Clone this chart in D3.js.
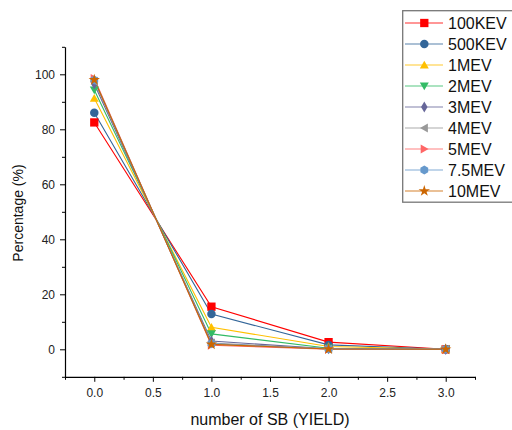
<!DOCTYPE html>
<html><head><meta charset="utf-8">
<script src="https://cdn.jsdelivr.net/npm/d3@7/dist/d3.min.js"></script>
<style>body{margin:0;background:#fff}svg{font-family:"Liberation Sans",Arial,sans-serif}</style>
</head><body><svg id="c" width="512" height="430"></svg>
<script>
const xValues = [0, 1, 2, 3];
const seriesNames = ["100KEV","500KEV","1MEV","2MEV","3MEV","4MEV","5MEV","7.5MEV","10MEV"];
const s100KEV = [82.5, 15.5, 2.6, 0];
const s500KEV = [86.0, 12.8, 1.6, 0];
const s1MEV   = [91.3, 8.0, 1.0, 0];
const s2MEV   = [94.3, 5.6, 0.4, 0];
const s3MEV   = [96.5, 3.0, 0.2, 0];
const s4MEV   = [97.5, 2.3, 0.1, 0];
const s5MEV   = [98.5, 1.5, 0.05, 0];
const s7_5MEV = [97.9, 2.0, 0.1, 0];
const s10MEV  = [98.0, 1.8, 0.1, 0];
const xTicks = [0, 0.5, 1, 1.5, 2, 2.5, 3];
const yTicks = [0, 20, 40, 60, 80, 100];

const allValues = [s100KEV,s500KEV,s1MEV,s2MEV,s3MEV,s4MEV,s5MEV,s7_5MEV,s10MEV];
const colors = ["#ff0000","#336699","#ffc000","#33bb66","#666699","#999999","#ff6666","#6699cc","#cc6600"];
const symbols = [d3.symbolSquare, d3.symbolCircle, d3.symbolTriangle, "tdown", d3.symbolDiamond, "tleft", "tright", "hex", d3.symbolStar];

const svg = d3.select("#c");
const x = d3.scaleLinear().domain([-0.25, 3.25]).range([65, 475]);
const y = d3.scaleLinear().domain([-10, 110]).range([376.8, 46.8]);

// axes
const xAxis = svg.append("g").attr("transform","translate(0,376.8)");
xAxis.call(d3.axisBottom(x).tickValues(xTicks).tickFormat(d3.format(".1f")).tickSize(5).tickSizeOuter(0));
const xMinor = svg.append("g").attr("transform","translate(0,376.8)");
xMinor.call(d3.axisBottom(x).tickValues([-0.25,0.25,0.75,1.25,1.75,2.25,2.75,3.25]).tickFormat("").tickSize(3).tickSizeOuter(0));
xMinor.select(".domain").remove();
const yAxis = svg.append("g").attr("transform","translate(65,0)");
yAxis.call(d3.axisLeft(y).tickValues(yTicks).tickSize(5).tickSizeOuter(0));
const yMinor = svg.append("g").attr("transform","translate(65,0)");
yMinor.call(d3.axisLeft(y).tickValues([-10,10,30,50,70,90,110]).tickFormat("").tickSize(3).tickSizeOuter(0));
yMinor.select(".domain").remove();
svg.selectAll(".domain").attr("stroke","#000").attr("stroke-width",1.2);
svg.selectAll(".tick line").attr("stroke","#000");
svg.selectAll(".tick text").attr("font-size","12px").attr("fill","#222").attr("font-family","Liberation Sans, Arial, sans-serif");
xAxis.selectAll(".tick text").attr("dy","1.05em");
yAxis.selectAll(".tick text").attr("dx","-2");

svg.append("text").attr("x",270).attr("y",425).attr("text-anchor","middle").attr("font-size","16px").attr("fill","#111").text("number of SB (YIELD)");
svg.append("text").attr("transform","translate(23,213) rotate(-90)").attr("text-anchor","middle").attr("font-size","14px").attr("fill","#111").text("Percentage (%)");

function markerPath(sym, size) {
  const r = size/2;
  if (sym === "tdown") return `M${-r},${-r*0.8}L${r},${-r*0.8}L0,${r*0.95}Z`;
  if (sym === "tleft") return `M${-r*0.95},0L${r*0.8},${-r}L${r*0.8},${r}Z`;
  if (sym === "tright") return `M${r*0.95},0L${-r*0.8},${-r}L${-r*0.8},${r}Z`;
  if (sym === "hex") { const pts=d3.range(6).map(i=>{const a=Math.PI/6+i*Math.PI/3;return [r*Math.cos(a),r*Math.sin(a)];}); return "M"+pts.join("L")+"Z"; }
  if (sym === d3.symbolTriangle) return `M0,${-r*0.95}L${r},${r*0.8}L${-r},${r*0.8}Z`;
  const area = sym===d3.symbolSquare ? size*size*0.85 : sym===d3.symbolStar ? size*size*0.5 : sym===d3.symbolDiamond? size*size*0.45 : size*size*0.7;
  return d3.symbol().type(sym).size(area)();
}

const line = d3.line().x((d,i)=>x(xValues[i])).y(d=>y(d));
const plot = svg.append("g");
allValues.forEach((vals, k) => {
  plot.append("path").attr("d", line(vals)).attr("fill","none").attr("stroke",colors[k]).attr("stroke-width",1.1);
});
allValues.forEach((vals, k) => {
  plot.selectAll(null).data(vals).enter().append("path")
    .attr("transform",(d,i)=>`translate(${x(xValues[i])},${y(d)})`)
    .attr("d", markerPath(symbols[k], 9))
    .attr("fill", colors[k]);
});

// legend
const lg = svg.append("g");
lg.append("rect").attr("x",402.7).attr("y",10.7).attr("width",120).attr("height",191.5).attr("fill","#fff").attr("stroke","#777").attr("stroke-width",1.3);
seriesNames.forEach((name,k)=>{
  const cy = 23 + k*21;
  lg.append("line").attr("x1",405).attr("x2",443).attr("y1",cy).attr("y2",cy).attr("stroke",colors[k]).attr("stroke-opacity",0.55).attr("stroke-width",1.5);
  lg.append("path").attr("transform",`translate(424.3,${cy})`).attr("d",markerPath(symbols[k],9)).attr("fill",colors[k]);
  lg.append("text").attr("x",448).attr("y",cy).attr("dy","0.36em").attr("font-size","16px").attr("fill","#111").text(name);
});
</script></body></html>
